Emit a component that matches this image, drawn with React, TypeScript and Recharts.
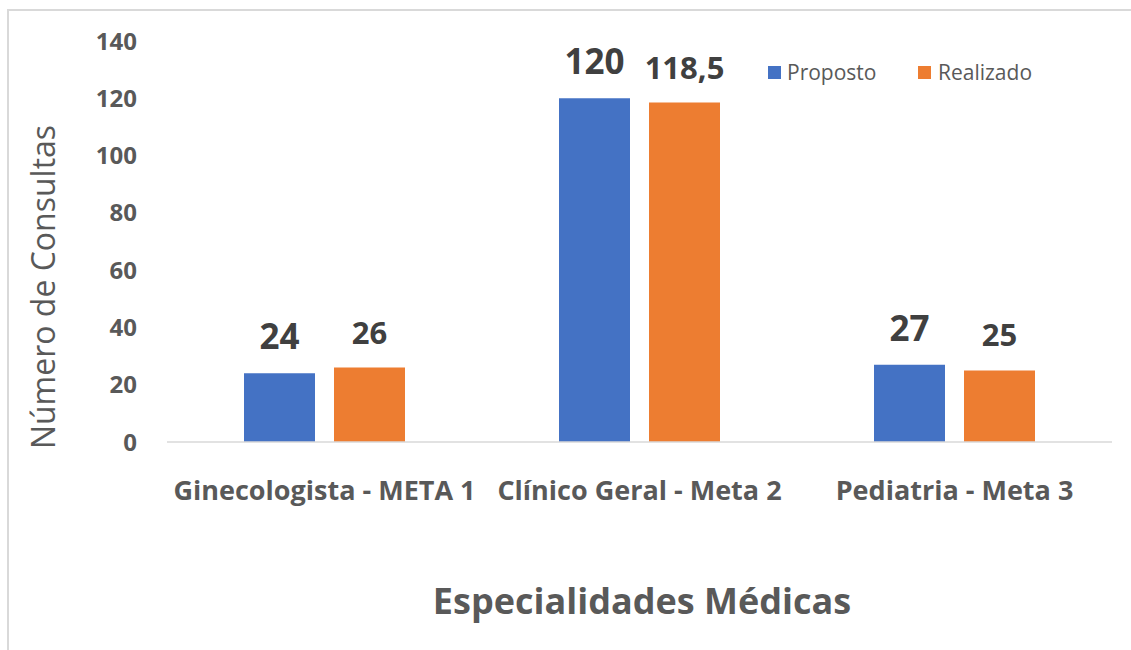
import React from "react";
import { BarChart, Bar, XAxis, YAxis, LabelList } from "recharts";

const categories = ["Ginecologista - META 1", "Clínico Geral - Meta 2", "Pediatria - Meta 3"];
const proposto = [24, 120, 27];
const realizado = [26, 118.5, 25];
const yTicks = [0, 20, 40, 60, 80, 100, 120, 140];

const data = categories.map((name, i) => ({ name, proposto: proposto[i], realizado: realizado[i] }));

const FONT = "'Open Sans', sans-serif";

const fmt = (v: number) => String(v).replace(".", ",");

// labels sit above the bars, proposto ones a bit larger
const makeLabel = (size: number) => (props: any) => {
  const { x, y, width, value } = props;
  return (
    <text x={x + width / 2} y={y - 24} textAnchor="middle" fontFamily={FONT} fontWeight={700} fontSize={size} fill="#404040">
      {fmt(value)}
    </text>
  );
};

const CategoryTick = ({ x, y, payload }: any) => (
  <text x={x} y={y + 50} textAnchor="middle" fontFamily={FONT} fontWeight={700} fontSize={27} fill="#595959">
    {payload.value}
  </text>
);

export default function App() {
  return (
    <div style={{ position: "fixed", left: 0, top: 0, width: 1131, height: 650, background: "#fff", overflow: "hidden" }}>
      <div style={{ position: "absolute", left: 7, top: 9, width: 1200, height: 700, borderLeft: "2px solid #d9d9d9", borderTop: "2px solid #d9d9d9" }} />
      <div style={{ position: "absolute", left: 0, top: 0 }}>
        <BarChart width={1131} height={650} data={data} margin={{ top: 41, right: 19, bottom: 207, left: 0 }} barGap={19}>
          <XAxis dataKey="name" axisLine={{ stroke: "#d9d9d9", strokeWidth: 1.5 }} tickLine={false} tick={<CategoryTick />} interval={0} height={1} />
          <YAxis
            domain={[0, 140]}
            ticks={yTicks}
            width={167}
            axisLine={false}
            tickLine={false}
            tickSize={0}
            tickMargin={30}
            tick={{ fontFamily: FONT, fontWeight: 700, fontSize: 24, fill: "#595959" }}
          />
          <Bar dataKey="proposto" name="Proposto" fill="#4472C4" barSize={71} isAnimationActive={false}>
            <LabelList dataKey="proposto" content={makeLabel(35)} />
          </Bar>
          <Bar dataKey="realizado" name="Realizado" fill="#ED7D31" barSize={71} isAnimationActive={false}>
            <LabelList dataKey="realizado" content={makeLabel(31)} />
          </Bar>
        </BarChart>
      </div>
      {/* legend */}
      <div style={{ position: "absolute", left: 768, top: 58, width: 320, height: 30, fontFamily: FONT, fontSize: 21, color: "#595959" }}>
        <span style={{ position: "absolute", left: 0, top: 8, width: 13, height: 13, background: "#4472C4" }} />
        <span style={{ position: "absolute", left: 19, top: 0, lineHeight: "28px" }}>Proposto</span>
        <span style={{ position: "absolute", left: 150, top: 8, width: 13, height: 13, background: "#ED7D31" }} />
        <span style={{ position: "absolute", left: 170, top: 0, lineHeight: "28px" }}>Realizado</span>
      </div>
      <div
        style={{
          position: "absolute",
          left: 42,
          top: 287,
          transform: "translate(-50%, -50%) rotate(-90deg)",
          whiteSpace: "nowrap",
          fontFamily: FONT,
          fontSize: 32,
          color: "#595959",
        }}
      >
        Número de Consultas
      </div>
      <div
        style={{
          position: "absolute",
          left: 642,
          top: 600,
          transform: "translate(-50%, -50%)",
          whiteSpace: "nowrap",
          fontFamily: FONT,
          fontWeight: 700,
          fontSize: 36,
          color: "#595959",
        }}
      >
        Especialidades Médicas
      </div>
    </div>
  );
}
